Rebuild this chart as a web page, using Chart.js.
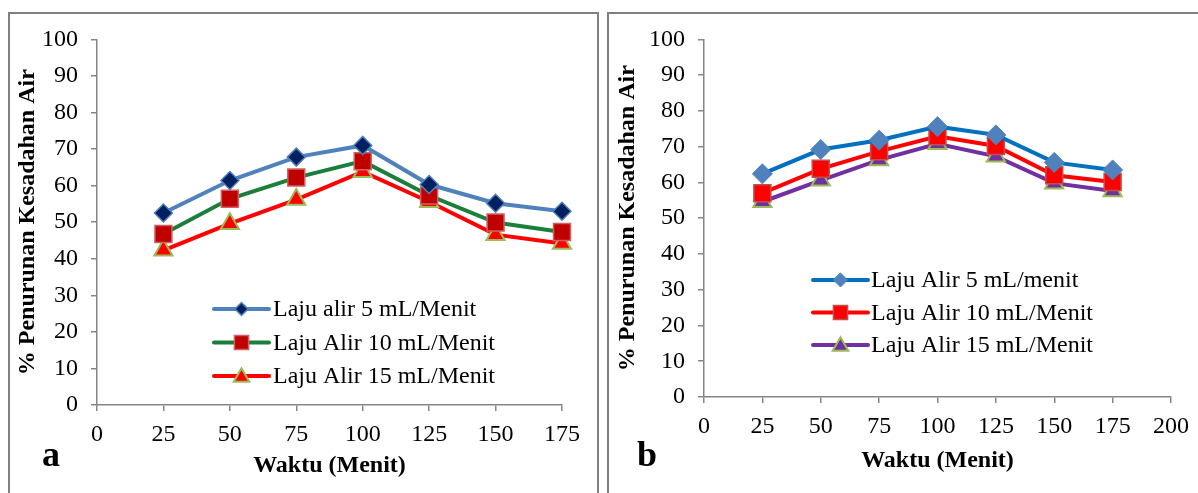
<!DOCTYPE html>
<html>
<head>
<meta charset="utf-8">
<script src="https://cdn.jsdelivr.net/npm/chart.js@4.4.1/dist/chart.umd.min.js"></script>
<style>
  html, body { margin: 0; padding: 0; background: #ffffff; width: 1198px; height: 493px; overflow: hidden; }
  .panel { position: absolute; border: 2px solid #7f7f7f; box-sizing: border-box; }
  canvas { position: absolute; }
</style>
</head>
<body>
<div class="panel" style="left:8px; top:12px; width:591px; height:520px;"></div>
<div class="panel" style="left:607px; top:12px; width:620px; height:520px;"></div>
<canvas id="chartA" width="590" height="481" style="left:8px; top:12px;"></canvas>
<canvas id="chartB" width="590" height="481" style="left:608px; top:12px;"></canvas>
<script>
// ---- data ----
const timeMinutes = [25, 50, 75, 100, 125, 150, 175];

const panelA_labels = ['Laju alir 5 mL/Menit', 'Laju Alir 10 mL/Menit', 'Laju Alir 15 mL/Menit'];
const panelA_rate5  = [52.5, 61.4, 67.8, 71.0, 60.3, 55.2, 53.0];
const panelA_rate10 = [46.8, 56.4, 62.2, 66.7, 57.3, 49.9, 47.3];
const panelA_rate15 = [42.3, 49.6, 56.2, 63.8, 55.6, 46.6, 44.2];

const panelB_labels = ['Laju Alir 5 mL/menit', 'Laju Alir 10 mL/Menit', 'Laju Alir 15 mL/Menit'];
const panelB_rate5  = [62.4, 69.2, 71.8, 75.6, 73.3, 65.6, 63.5];
const panelB_rate10 = [57.0, 63.8, 68.7, 72.9, 70.2, 62.0, 60.1];
const panelB_rate15 = [54.6, 60.6, 66.3, 70.8, 67.3, 59.8, 57.6];

const yTitle = '% Penurunan Kesadahan Air';
const xTitle = 'Waktu (Menit)';
const panelA_tag = 'a';
const panelB_tag = 'b';

// ---- helpers ----
const FONT = "'Liberation Serif', 'Times New Roman', serif";
const AXIS = '#868686';

function pts(vals) { return timeMinutes.map((t, i) => ({ x: t, y: vals[i] })); }

function series(label, vals, lineColor, style, fill, border, radius, bw, legendRadius) {
  return {
    label, data: pts(vals), clip: false,
    borderColor: lineColor, borderWidth: 4, tension: 0,
    pointStyle: style, pointRadius: radius, pointHoverRadius: radius,
    pointBackgroundColor: fill, pointBorderColor: border, pointBorderWidth: bw,
    legendMarker: { style, fill, border, radius: legendRadius, bw }
  };
}

function drawMarker(ctx, m, x, y) {
  ctx.save();
  ctx.fillStyle = m.fill; ctx.strokeStyle = m.border; ctx.lineWidth = m.bw;
  ctx.beginPath();
  const r = m.radius;
  if (m.style === 'rectRot') {
    ctx.moveTo(x, y - r); ctx.lineTo(x + r, y); ctx.lineTo(x, y + r); ctx.lineTo(x - r, y);
  } else if (m.style === 'rect') {
    const s = Math.SQRT1_2 * r;
    ctx.rect(x - s, y - s, 2 * s, 2 * s);
  } else if (m.style === 'triangle') {
    const h = r * 1.5, w = r * Math.sqrt(3) / 2;
    const top = y - h / 2 - 1;
    ctx.moveTo(x, top); ctx.lineTo(x + w, top + h); ctx.lineTo(x - w, top + h);
  }
  ctx.closePath();
  ctx.fill();
  if (m.bw > 0) ctx.stroke();
  ctx.restore();
}

const insideLegend = {
  id: 'insideLegend',
  afterDraw(chart, args, opts) {
    const ctx = chart.ctx;
    ctx.save();
    chart.data.datasets.forEach((ds, i) => {
      const y = opts.y + i * opts.dy;
      ctx.strokeStyle = ds.borderColor; ctx.lineWidth = ds.borderWidth; ctx.lineCap = 'round';
      ctx.beginPath(); ctx.moveTo(opts.x, y); ctx.lineTo(opts.x + opts.len, y); ctx.stroke();
      drawMarker(ctx, ds.legendMarker, opts.x + opts.len / 2, y);
      ctx.fillStyle = '#000';
      ctx.font = "24px " + FONT;
      ctx.textAlign = 'left'; ctx.textBaseline = 'middle';
      ctx.fillText(ds.label, opts.textX, y + 1);
    });
    // panel tag
    ctx.font = "bold 36px " + FONT;
    ctx.textBaseline = 'alphabetic';
    ctx.fillText(opts.tag, opts.tagX, opts.tagY);
    ctx.restore();
  }
};

function makeOptions(xMax, yWidth, xHeight, pad, legendOpts) {
  return {
    responsive: false, animation: false, devicePixelRatio: 1,
    layout: { padding: pad },
    plugins: { legend: { display: false }, tooltip: { enabled: false }, insideLegend: legendOpts },
    scales: {
      x: {
        type: 'linear', min: 0, max: xMax,
        ticks: { stepSize: 25, color: '#000', font: { family: FONT, size: 24 }, padding: 9, maxRotation: 0 },
        grid: { drawOnChartArea: false, drawTicks: true, tickLength: 6, color: AXIS, lineWidth: 1.5 },
        border: { display: true, color: AXIS, width: 1.5 },
        title: { display: true, text: xTitle, color: '#000', font: { family: FONT, size: 24, weight: 'bold' }, padding: { top: 4, bottom: 4 } },
        afterFit: (s) => { s.height = xHeight; }
      },
      y: {
        min: 0, max: 100,
        ticks: { stepSize: 10, color: '#000', font: { family: FONT, size: 24 }, padding: 13 },
        grid: { drawOnChartArea: false, drawTicks: true, tickLength: 6, color: AXIS, lineWidth: 1.5 },
        border: { display: true, color: AXIS, width: 1.5 },
        title: { display: true, text: yTitle, color: '#000', font: { family: FONT, size: 24, weight: 'bold' }, padding: { top: 5, bottom: 4 } },
        afterFit: (s) => { s.width = yWidth; }
      }
    }
  };
}

new Chart(document.getElementById('chartA'), {
  type: 'line',
  data: {
    datasets: [
      series(panelA_labels[0], panelA_rate5,  '#4f81bd', 'rectRot',  '#002060', '#4f81bd', 9,  1.5, 6.5),
      series(panelA_labels[1], panelA_rate10, '#1a7f3a', 'rect',     '#c00000', '#d06060', 12, 1.5, 10),
      series(panelA_labels[2], panelA_rate15, '#ff0000', 'triangle', '#ff0000', '#9bbb59', 10.5, 2, 9)
    ]
  },
  options: makeOptions(175, 89, 79, { left: 0, top: 24, right: 36, bottom: 9 },
    { x: 206, y: 297, dy: 33.5, len: 55, textX: 265, tag: panelA_tag, tagX: 34, tagY: 454 }),
  plugins: [insideLegend]
});

new Chart(document.getElementById('chartB'), {
  type: 'line',
  data: {
    datasets: [
      series(panelB_labels[0], panelB_rate5,  '#0070c0', 'rectRot',  '#4f81bd', '#4f81bd', 10, 1, 7),
      series(panelB_labels[1], panelB_rate10, '#ff0000', 'rect',     '#ff0000', '#c0504d', 12, 1.5, 10),
      series(panelB_labels[2], panelB_rate15, '#7030a0', 'triangle', '#7030a0', '#9bbb59', 10.5, 2, 9)
    ]
  },
  options: makeOptions(200, 96, 82, { left: 0, top: 24, right: 24, bottom: 14 },
    { x: 205, y: 268, dy: 32.5, len: 55, textX: 263, tag: panelB_tag, tagX: 29, tagY: 454 }),
  plugins: [insideLegend]
});
</script>
</body>
</html>
